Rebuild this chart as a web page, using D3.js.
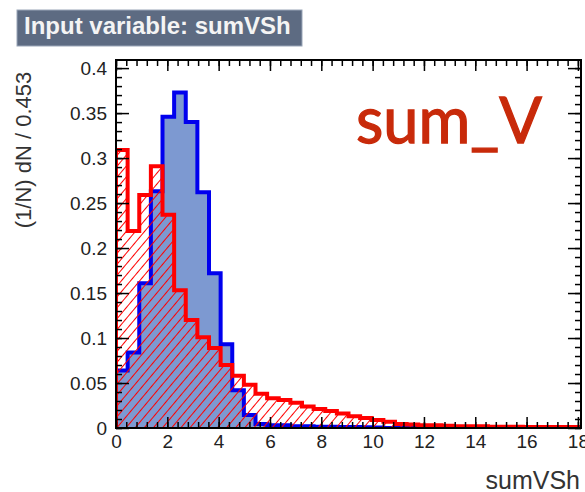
<!DOCTYPE html>
<html lang="en">
<head>
    <meta charset="UTF-8"/>
    <title>Input variable: sumVSh</title>
    <script src="https://d3js.org/d3.v7.min.js"></script>
    <style>
        body { margin: 0; background: white; }
        svg { display: block; }
    </style>
</head>
<body>
<script>
    var w = 585;
    var h = 492;

    // histogram data, bin width 0.453, 40 bins starting at 0
    var binWidth = 0.453;
    var signal = [0.064, 0.084, 0.161, 0.263, 0.346, 0.373, 0.340, 0.262, 0.172, 0.093,
                  0.042, 0.0145, 0.0045, 0.003, 0.003, 0.002, 0.002, 0.0015, 0.0015, 0.001,
                  0.001, 0.0008, 0.0005, 0, 0, 0, 0, 0, 0, 0,
                  0, 0, 0, 0, 0, 0, 0, 0, 0, 0];
    var background = [0.309, 0.219, 0.259, 0.291, 0.237, 0.153, 0.120, 0.101, 0.089, 0.070,
                      0.058, 0.048, 0.038, 0.033, 0.031, 0.028, 0.024, 0.021, 0.019, 0.016,
                      0.013, 0.011, 0.009, 0.007, 0.0045, 0.004, 0.003, 0.003, 0.0025, 0.002,
                      0.002, 0.002, 0.0015, 0.0015, 0.0015, 0.001, 0.001, 0.001, 0.001, 0.001];

    var xTicks = [0, 2, 4, 6, 8, 10, 12, 14, 16, 18];
    var yTicks = [0, 0.05, 0.1, 0.15, 0.2, 0.25, 0.3, 0.35, 0.4];
    var yTickLabels = ["0", "0.05", "0.1", "0.15", "0.2", "0.25", "0.3", "0.35", "0.4"];

    var xMax = binWidth * signal.length;
    var yMax = 0.409;

    var xScale = d3.scaleLinear().domain([0, xMax]).range([116, 581]);
    var yScale = d3.scaleLinear().domain([0, yMax]).range([428, 60]);

    var svg = d3.select("body").append("svg")
                .attr("width", w)
                .attr("height", h);

    svg.append("rect").attr("width", w).attr("height", h).attr("fill", "white");

    // hatch pattern for background
    var defs = svg.append("defs");
    defs.append("clipPath").attr("id", "frameClip")
        .append("rect")
        .attr("x", 116).attr("y", 60)
        .attr("width", 465).attr("height", 368);
    var pat = defs.append("pattern")
        .attr("id", "hatch")
        .attr("patternUnits", "userSpaceOnUse")
        .attr("width", 7)
        .attr("height", 7)
        .attr("patternTransform", "rotate(40)");
    pat.append("line")
        .attr("x1", 0).attr("y1", 0)
        .attr("x2", 0).attr("y2", 7)
        .attr("stroke", "#ff0000")
        .attr("stroke-width", 2);

    function steps(values) {
        var pts = values.map(function(v, i) { return [i * binWidth, v]; });
        pts.push([values.length * binWidth, values[values.length - 1]]);
        return pts;
    }

    function outline(values) {
        var pts = [[0, 0]];
        values.forEach(function(v, i) {
            pts.push([i * binWidth, v]);
            pts.push([(i + 1) * binWidth, v]);
        });
        pts.push([values.length * binWidth, 0]);
        return pts;
    }

    var area = d3.area()
        .curve(d3.curveStepAfter)
        .x(function(d) { return xScale(d[0]); })
        .y0(yScale(0))
        .y1(function(d) { return yScale(d[1]); });

    var line = d3.line()
        .x(function(d) { return xScale(d[0]); })
        .y(function(d) { return yScale(d[1]); });

    var plot = svg.append("g").attr("clip-path", "url(#frameClip)");

    plot.append("path")
        .attr("d", area(steps(signal)))
        .attr("fill", "#7d99d1");

    plot.append("path")
        .attr("d", line(outline(signal)))
        .attr("fill", "none")
        .attr("stroke", "#0000ee")
        .attr("stroke-width", 4);

    plot.append("path")
        .attr("d", area(steps(background)))
        .attr("fill", "url(#hatch)");

    plot.append("path")
        .attr("d", line(outline(background)))
        .attr("fill", "none")
        .attr("stroke", "#ff0000")
        .attr("stroke-width", 4);

    // axes
    var xMinor = d3.range(0, 46).map(function(i) { return i * 0.4; }).filter(function(v) { return v <= xMax; });
    var yMinor = d3.range(0, 41).map(function(i) { return i * 0.01; });

    function styleAxis(g) {
        g.select(".domain").remove();
        g.selectAll("line").attr("stroke", "black").attr("stroke-width", 1.5);
    }

    svg.append("g").attr("transform", "translate(0,428)")
        .call(d3.axisBottom(xScale).tickValues(xMinor).tickSize(-6).tickFormat(""))
        .call(styleAxis);
    var xAx = svg.append("g").attr("transform", "translate(0,428)")
        .call(d3.axisBottom(xScale).tickValues(xTicks).tickSize(-11).tickPadding(7).tickFormat(d3.format("d")))
        .call(styleAxis);
    svg.append("g").attr("transform", "translate(0,60)")
        .call(d3.axisTop(xScale).tickValues(xMinor).tickSize(-6).tickFormat(""))
        .call(styleAxis);
    svg.append("g").attr("transform", "translate(0,60)")
        .call(d3.axisTop(xScale).tickValues(xTicks).tickSize(-11).tickFormat(""))
        .call(styleAxis);

    svg.append("g").attr("transform", "translate(116,0)")
        .call(d3.axisLeft(yScale).tickValues(yMinor).tickSize(-6).tickFormat(""))
        .call(styleAxis);
    var yAx = svg.append("g").attr("transform", "translate(116,0)")
        .call(d3.axisLeft(yScale).tickValues(yTicks).tickSize(-13).tickPadding(9)
              .tickFormat(function(d, i) { return yTickLabels[i]; }))
        .call(styleAxis);
    svg.append("g").attr("transform", "translate(581,0)")
        .call(d3.axisRight(yScale).tickValues(yMinor).tickSize(-6).tickFormat(""))
        .call(styleAxis);
    svg.append("g").attr("transform", "translate(581,0)")
        .call(d3.axisRight(yScale).tickValues(yTicks).tickSize(-13).tickFormat(""))
        .call(styleAxis);

    xAx.selectAll("text").attr("font-family", "Liberation Sans, Arial, sans-serif")
        .attr("font-size", "19px").attr("fill", "#222");
    yAx.selectAll("text").attr("font-family", "Liberation Sans, Arial, sans-serif")
        .attr("font-size", "19px").attr("fill", "#222");

    // frame
    svg.append("rect")
        .attr("x", 116).attr("y", 60)
        .attr("width", 465).attr("height", 368)
        .attr("fill", "none")
        .attr("stroke", "black")
        .attr("stroke-width", 2);

    // axis titles
    svg.append("text")
        .attr("transform", "translate(31,150) rotate(-90)")
        .attr("text-anchor", "middle")
        .attr("font-family", "Liberation Sans, Arial, sans-serif")
        .attr("font-size", "22px")
        .attr("fill", "#333")
        .text("(1/N) dN / " + binWidth);

    svg.append("text")
        .attr("x", 580).attr("y", 489)
        .attr("text-anchor", "end")
        .attr("font-family", "Liberation Sans, Arial, sans-serif")
        .attr("font-size", "25px")
        .attr("fill", "#333")
        .text("sumVSh");

    // title box
    svg.append("rect")
        .attr("x", 17).attr("y", 10)
        .attr("width", 285).attr("height", 36)
        .attr("fill", "#5d6b82")
        .attr("stroke", "#9aa6b8")
        .attr("stroke-width", 1);
    svg.append("text")
        .attr("x", 24).attr("y", 34)
        .attr("font-family", "Liberation Sans, Arial, sans-serif")
        .attr("font-weight", "bold")
        .attr("font-size", "24px")
        .attr("fill", "#f4f4f4")
        .text("Input variable: sumVSh");

    svg.append("text")
        .attr("x", 356).attr("y", 143)
        .attr("font-family", "Lato, sans-serif")
        .attr("font-size", "63px")
        .attr("fill", "#c82a0a")
        .attr("stroke", "#c82a0a")
        .attr("stroke-width", 1.3)
        .text("sum_V");
</script>
</body>
</html>
